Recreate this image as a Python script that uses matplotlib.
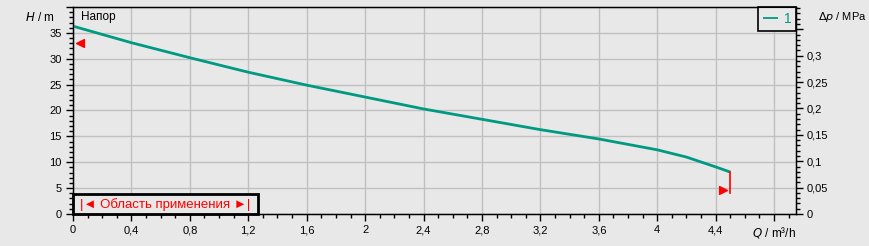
import numpy as np
import matplotlib.pyplot as plt
from matplotlib.patches import Rectangle
from matplotlib.ticker import MultipleLocator, FixedLocator

plt.rcParams['font.family'] = ['Liberation Sans', 'DejaVu Sans']
plt.rcParams['font.size'] = 8

# данные кривой напора
q = [0, 0.4, 0.8, 1.2, 1.6, 2.0, 2.4, 2.8, 3.2, 3.6, 4.0, 4.2, 4.4, 4.5]
h = [36.3, 33.1, 30.2, 27.4, 24.9, 22.6, 20.3, 18.3, 16.3, 14.5, 12.4, 11.0, 9.1, 8.1]

x_ticks = [0, 0.4, 0.8, 1.2, 1.6, 2.0, 2.4, 2.8, 3.2, 3.6, 4.0, 4.4, 4.8]
x_labels = ['0', '0,4', '0,8', '1,2', '1,6', '2', '2,4', '2,8', '3,2', '3,6', '4', '4,4', '']
y_ticks = [0, 5, 10, 15, 20, 25, 30, 35, 40]
y_labels = ['0', '5', '10', '15', '20', '25', '30', '35', '']
p_ticks = [0, 0.05, 0.1, 0.15, 0.2, 0.25, 0.3, 0.35]
p_labels = ['0', '0,05', '0,1', '0,15', '0,2', '0,25', '0,3', '']

bg = '#e8e8e8'
teal = '#009a82'
M_PER_MPA = 101.97

fig = plt.figure(figsize=(8.69, 2.46), dpi=100, facecolor=bg)
ax = fig.add_axes([73 / 869, 32 / 246, 723 / 869, 207 / 246], facecolor=bg)

ax.plot(q, h, color=teal, lw=2, solid_capstyle='butt', label='1', zorder=3)

# границы рабочей области
ax.plot([q[-1], q[-1]], [h[-1], 4.0], color='red', lw=1.2, zorder=4)
ax.scatter([0.05], [33.1], marker='<', s=32, color='red', zorder=5, clip_on=False)
ax.scatter([4.45], [4.7], marker='>', s=32, color='red', zorder=5)

ax.set_xlim(0, 4.95)
ax.set_ylim(0, 40)
ax.xaxis.set_major_locator(FixedLocator(x_ticks))
ax.set_xticklabels(x_labels)
ax.xaxis.set_minor_locator(MultipleLocator(0.1))
ax.yaxis.set_major_locator(FixedLocator(y_ticks))
ax.set_yticklabels(y_labels)
ax.yaxis.set_minor_locator(MultipleLocator(1))
ax.tick_params(which='major', length=5, width=1, pad=3, labelsize=8)
ax.tick_params(which='minor', length=3, width=1)
ax.grid(True, which='major', color='#c0c0c0', lw=1)
for s in ax.spines.values():
    s.set_color('black')
    s.set_linewidth(1)

ax2 = ax.twinx()
ax2.set_ylim(0, 40 / M_PER_MPA)
ax2.yaxis.set_major_locator(FixedLocator(p_ticks))
ax2.set_yticklabels(p_labels)
ax2.yaxis.set_minor_locator(MultipleLocator(0.01))
ax2.tick_params(which='major', length=5, width=1, pad=3, labelsize=8)
ax2.tick_params(which='minor', length=3, width=1)

# подписи осей
ax.text(-0.025, 0.95, r'$H$ / m', transform=ax.transAxes, ha='right', va='center', fontsize=8.5)
ax.text(1.03, 0.95, r'$\Delta p$ / MPa', transform=ax.transAxes, ha='left', va='center', fontsize=8)
ax.text(0.97, -0.09, r'$Q$ / m³/h', transform=ax.transAxes, ha='center', va='center', fontsize=8.5)
ax.text(0.011, 0.95, 'Напор', transform=ax.transAxes, ha='left', va='center', fontsize=8.5)

# область применения
ax.add_patch(Rectangle((0, 0), 0.256, 0.097, transform=ax.transAxes, facecolor=bg,
                       edgecolor='black', lw=2, zorder=6, clip_on=False))
ax.text(0.128, 0.048, '|◄ Область применения ►|', transform=ax.transAxes, ha='center',
        va='center', color='red', fontsize=9.5, zorder=7)

leg = ax.legend(loc='upper right', borderaxespad=0, fancybox=False, handlelength=1.1,
                handletextpad=0.4, borderpad=0.35, fontsize=10, facecolor=bg, framealpha=1)
leg.get_frame().set_edgecolor('black')
leg.get_frame().set_linewidth(1.2)
leg.get_lines()[0].set_linewidth(1.3)
for t in leg.get_texts():
    t.set_color(teal)

plt.savefig('out.png', dpi=100, facecolor=bg)
